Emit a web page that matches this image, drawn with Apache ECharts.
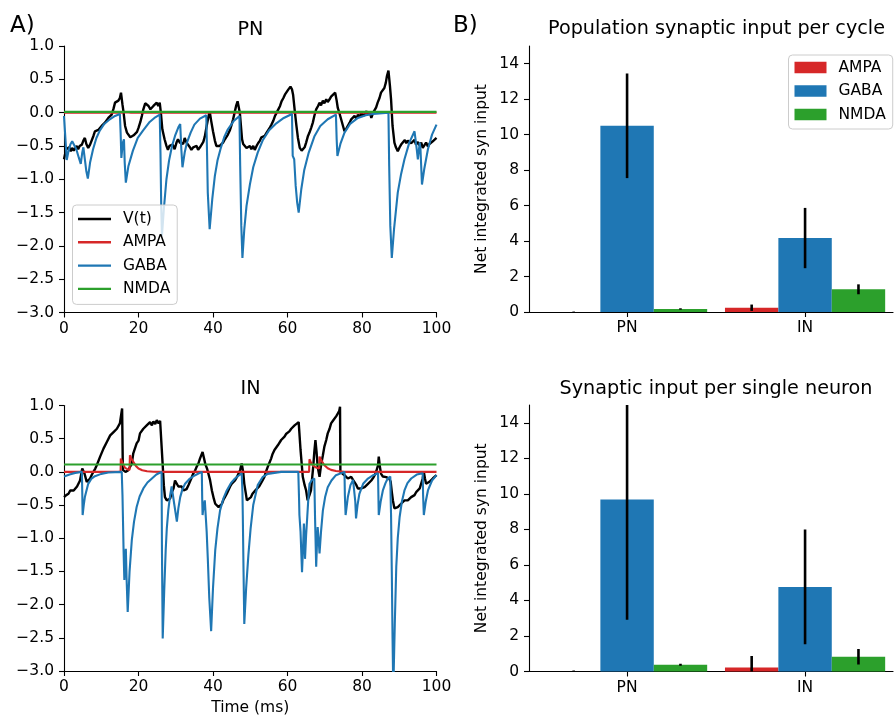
<!DOCTYPE html>
<html>
<head>
<meta charset="utf-8">
<script src="https://cdn.jsdelivr.net/npm/echarts@6/dist/echarts.min.js"></script>
<style>
html,body{margin:0;padding:0;background:#fff;}
#chart{width:894px;height:717px;}
</style>
</head>
<body>
<div id="chart"></div>
<script>
// ---------------- DATA ----------------
const timeTicks = [0, 20, 40, 60, 80, 100];
const voltTicks = [-3.0, -2.5, -2.0, -1.5, -1.0, -0.5, 0.0, 0.5, 1.0];
const barTicks = [0, 2, 4, 6, 8, 10, 12, 14];
const barCategories = ['PN', 'IN'];
const synTypes = ['AMPA', 'GABA', 'NMDA'];
const traceNames = ['V(t)', 'AMPA', 'GABA', 'NMDA'];

// PN traces [t (ms), value]
const pnVoltage = [[0,-0.7],[0.3,-0.62],[0.6,-0.55],[1.0,-0.58],[1.4,-0.52],[1.8,-0.58],[2.2,-0.53],[2.6,-0.57],[3.0,-0.55],[3.4,-0.5],[3.8,-0.55],[4.2,-0.5],[4.8,-0.48],[5.2,-0.42],[5.6,-0.38],[6.0,-0.47],[6.5,-0.53],[7.0,-0.48],[7.4,-0.45],[7.9,-0.35],[8.3,-0.28],[8.8,-0.31],[9.2,-0.26],[9.7,-0.23],[10.1,-0.2],[10.6,-0.19],[11.0,-0.15],[11.5,-0.12],[11.9,-0.08],[12.4,-0.07],[12.8,-0.03],[13.3,0.06],[13.7,0.15],[14.2,0.12],[14.6,0.18],[15.0,0.22],[15.3,0.3],[15.7,0.12],[16.0,0.0],[16.4,-0.2],[16.9,-0.3],[17.3,-0.33],[17.8,-0.37],[18.2,-0.38],[18.7,-0.34],[19.1,-0.33],[19.6,-0.29],[20.0,-0.23],[20.5,-0.14],[20.9,-0.05],[21.3,0.05],[21.8,0.14],[22.3,0.11],[22.7,0.1],[23.2,0.05],[23.6,0.04],[24.0,0.1],[24.4,0.12],[24.9,0.15],[25.3,0.1],[25.7,0.15],[26.0,0.0],[26.4,-0.25],[27.0,-0.4],[27.5,-0.5],[27.9,-0.56],[28.3,-0.5],[28.8,-0.53],[29.2,-0.48],[29.7,-0.55],[30.2,-0.45],[30.6,-0.4],[31.1,-0.45],[31.5,-0.42],[32.0,-0.47],[32.4,-0.38],[32.9,-0.45],[33.3,-0.43],[33.8,-0.52],[34.2,-0.56],[34.7,-0.52],[35.1,-0.55],[35.6,-0.5],[36.0,-0.56],[36.5,-0.52],[36.9,-0.5],[37.4,-0.44],[37.8,-0.36],[38.3,-0.2],[38.7,-0.08],[39.1,0.02],[39.5,-0.12],[40.0,-0.28],[40.5,-0.42],[40.9,-0.5],[41.4,-0.47],[41.8,-0.5],[42.3,-0.53],[42.7,-0.45],[43.2,-0.4],[43.6,-0.37],[44.0,-0.33],[44.5,-0.27],[44.9,-0.2],[45.4,-0.1],[45.8,0.0],[46.2,0.1],[46.6,0.17],[47.2,0.0],[47.8,-0.4],[48.1,-0.47],[48.5,-0.5],[49.0,-0.53],[49.4,-0.56],[49.9,-0.5],[50.3,-0.55],[50.8,-0.5],[51.2,-0.56],[51.7,-0.5],[52.1,-0.46],[52.6,-0.42],[53.0,-0.37],[53.5,-0.4],[53.9,-0.35],[54.4,-0.3],[54.8,-0.28],[55.3,-0.22],[55.7,-0.18],[56.2,-0.12],[56.6,-0.055],[57.1,0.0],[57.5,0.045],[58.0,0.1],[58.4,0.17],[58.9,0.22],[59.3,0.27],[59.8,0.3],[60.2,0.345],[60.8,0.39],[61.2,0.35],[61.5,0.27],[62.0,0.0],[62.4,-0.2],[62.8,-0.38],[63.3,-0.53],[63.8,-0.57],[64.2,-0.6],[64.6,-0.52],[65.0,-0.45],[65.5,-0.35],[65.9,-0.3],[66.4,-0.22],[66.8,-0.15],[67.2,-0.05],[67.7,0.05],[68.2,0.1],[68.6,0.15],[69.0,0.11],[69.5,0.18],[69.9,0.14],[70.4,0.2],[70.8,0.16],[71.3,0.2],[71.7,0.24],[72.1,0.27],[72.8,0.3],[73.2,0.18],[73.5,0.07],[74.0,-0.02],[74.4,-0.1],[74.9,-0.2],[75.3,-0.28],[75.8,-0.24],[76.2,-0.2],[76.7,-0.15],[77.1,-0.1],[77.6,-0.13],[78.0,-0.05],[78.5,-0.09],[78.9,-0.03],[79.4,-0.07],[79.8,0.0],[80.3,-0.05],[80.7,-0.02],[81.2,0.02],[81.6,-0.03],[82.1,0.01],[82.5,-0.08],[83.0,0.0],[83.4,0.02],[83.8,0.08],[84.2,0.15],[84.7,0.22],[85.1,0.3],[85.6,0.33],[86.0,0.37],[86.4,0.45],[86.7,0.55],[87.1,0.63],[87.5,0.4],[87.8,0.2],[88.2,-0.2],[88.7,-0.45],[89.1,-0.52],[89.6,-0.58],[90.1,-0.52],[90.5,-0.48],[91.0,-0.45],[91.5,-0.41],[91.9,-0.46],[92.3,-0.42],[92.8,-0.4],[93.2,-0.46],[93.6,-0.44],[94.1,-0.41],[94.5,-0.48],[95.0,-0.44],[95.4,-0.49],[95.9,-0.45],[96.3,-0.53],[96.8,-0.5],[97.2,-0.45],[97.7,-0.51],[98.1,-0.47],[98.6,-0.49],[99.0,-0.43],[99.5,-0.41],[100,-0.38]];
const pnAMPA = [[0,0],[15.3,0],[15.4,0.015],[16.5,0.008],[18,0],[46.8,0],[47,0.01],[48,0],[100,0]];
const pnGABA = [[0,-0.05],[0.3,-0.06],[0.5,-0.5],[0.73,-0.71],[1.2,-0.58],[1.7,-0.48],[2.2,-0.43],[2.7,-0.41],[3.3,-0.55],[4.0,-0.68],[4.5,-0.77],[4.9,-0.6],[5.2,-0.52],[5.6,-0.7],[6.0,-0.88],[6.4,-0.99],[7.0,-0.75],[7.8,-0.55],[8.7,-0.38],[9.6,-0.27],[10.8,-0.17],[12.3,-0.1],[13.7,-0.05],[15.0,-0.02],[15.2,-0.3],[15.4,-0.68],[15.8,-0.45],[16.1,-0.4],[16.3,-0.75],[16.6,-1.05],[17.3,-0.8],[18.5,-0.57],[19.8,-0.38],[21.2,-0.27],[23.0,-0.14],[24.5,-0.07],[25.7,-0.03],[25.9,-0.6],[26.1,-1.4],[26.3,-1.85],[26.8,-1.45],[27.5,-1.0],[28.2,-0.72],[29.0,-0.5],[29.8,-0.35],[30.7,-0.22],[31.2,-0.17],[31.5,-0.55],[31.8,-0.82],[32.4,-0.6],[33.0,-0.45],[34.0,-0.3],[35.0,-0.18],[36.5,-0.09],[38.2,-0.04],[38.4,-0.6],[38.6,-1.2],[39.1,-1.75],[39.8,-1.3],[40.5,-0.95],[41.2,-0.72],[42.0,-0.55],[43.0,-0.37],[44.0,-0.25],[45.5,-0.13],[47.1,-0.05],[47.3,-0.8],[47.6,-1.7],[47.9,-2.18],[48.4,-1.75],[49.0,-1.4],[49.9,-1.08],[50.8,-0.82],[52.0,-0.6],[53.4,-0.41],[55.0,-0.27],[57.0,-0.16],[59.0,-0.08],[61.2,-0.02],[61.4,-0.65],[61.8,-0.7],[62.2,-1.1],[62.6,-1.35],[63.0,-1.5],[63.7,-1.15],[64.5,-0.86],[65.7,-0.6],[67.2,-0.36],[68.8,-0.2],[70.8,-0.1],[73.0,-0.03],[73.2,-0.4],[73.4,-0.65],[74.2,-0.47],[75.3,-0.3],[76.8,-0.17],[78.9,-0.08],[81.0,-0.04],[83.0,-0.02],[87.1,0.0],[87.3,-0.8],[87.6,-1.7],[88.0,-2.18],[88.6,-1.75],[89.6,-1.2],[90.5,-0.92],[91.4,-0.7],[92.7,-0.45],[94.1,-0.28],[94.5,-0.25],[94.7,-0.55],[95.0,-0.7],[95.5,-0.45],[95.7,-0.55],[96.1,-1.08],[96.7,-0.85],[97.7,-0.55],[98.8,-0.33],[100,-0.18]];
const pnNMDA = [[0,0.012],[100,0.012]];

// IN traces [t (ms), value]
const inVoltage = [[0,-0.38],[0.6,-0.35],[1.2,-0.33],[1.7,-0.28],[2.1,-0.25],[2.6,-0.28],[3.0,-0.25],[3.5,-0.22],[3.9,-0.2],[4.3,-0.13],[4.9,0.05],[5.2,0.02],[5.5,-0.025],[6.1,-0.15],[6.6,-0.12],[7.0,-0.1],[7.5,-0.04],[7.9,0.0],[8.4,0.05],[8.8,0.1],[9.3,0.13],[9.7,0.23],[10.2,0.26],[10.6,0.35],[11.1,0.38],[11.5,0.45],[12.0,0.48],[12.4,0.55],[12.9,0.56],[13.3,0.6],[13.8,0.62],[14.2,0.65],[14.6,0.68],[15.0,0.73],[15.4,0.72],[15.6,0.955],[15.8,0.03],[16.5,0.0],[17.2,0.02],[17.7,0.0],[18.2,0.125],[18.6,0.28],[19.1,0.3],[19.5,0.43],[20.0,0.47],[20.4,0.58],[20.9,0.57],[21.3,0.65],[21.8,0.66],[22.2,0.7],[22.7,0.69],[23.1,0.75],[23.6,0.7],[24.0,0.76],[24.5,0.72],[24.9,0.78],[25.4,0.73],[25.8,0.77],[26.3,0.75],[26.5,0.1],[26.8,-0.2],[27.1,-0.38],[27.6,-0.43],[28.0,-0.42],[28.5,-0.4],[29.0,-0.3],[29.4,-0.25],[29.8,-0.13],[30.2,-0.15],[30.7,-0.22],[31.2,-0.25],[31.6,-0.22],[32.1,-0.28],[32.5,-0.25],[32.9,-0.26],[33.4,-0.2],[33.8,-0.15],[34.3,-0.08],[34.7,-0.025],[35.2,0.02],[35.6,0.075],[36.1,0.13],[36.5,0.2],[37.2,0.3],[37.6,0.2],[37.9,0.125],[38.4,0.05],[38.8,0.025],[39.2,-0.12],[39.7,-0.28],[40.2,-0.4],[40.6,-0.48],[41.1,-0.5],[41.5,-0.53],[42.0,-0.5],[42.4,-0.48],[42.8,-0.42],[43.2,-0.38],[43.7,-0.33],[44.1,-0.28],[44.6,-0.22],[45.0,-0.18],[45.5,-0.15],[45.9,-0.13],[46.4,-0.08],[46.8,-0.05],[47.3,0.03],[47.7,0.125],[48.1,0.0],[48.4,-0.18],[48.8,-0.32],[49.1,-0.43],[49.6,-0.42],[50.2,-0.38],[50.6,-0.33],[51.1,-0.3],[51.5,-0.27],[52.0,-0.25],[52.4,-0.22],[52.9,-0.2],[53.3,-0.13],[53.8,-0.075],[54.2,0.0],[54.7,0.075],[55.1,0.13],[55.6,0.2],[56.0,0.27],[56.5,0.33],[56.9,0.35],[57.4,0.4],[57.8,0.43],[58.3,0.48],[58.7,0.49],[59.2,0.53],[59.6,0.57],[60.1,0.6],[60.5,0.61],[61.0,0.65],[61.4,0.67],[61.9,0.7],[62.4,0.72],[63.0,0.75],[63.5,0.33],[64.1,-0.075],[64.6,-0.2],[65.0,-0.28],[65.4,-0.43],[65.9,-0.35],[66.3,-0.28],[66.6,-0.1],[66.9,0.075],[67.2,0.3],[67.5,0.48],[67.8,0.3],[68.1,0.075],[68.6,-0.075],[69.0,0.1],[69.5,0.25],[69.9,0.38],[70.4,0.48],[70.8,0.58],[71.3,0.65],[71.7,0.73],[72.2,0.77],[72.6,0.8],[73.1,0.84],[73.5,0.88],[73.9,0.92],[74.1,0.98],[74.2,0.0],[74.7,-0.03],[75.3,-0.05],[75.8,-0.08],[76.2,-0.1],[76.7,-0.08],[77.1,-0.075],[77.6,-0.12],[78.0,-0.15],[78.5,-0.2],[78.9,-0.25],[79.4,-0.27],[79.8,-0.25],[80.3,-0.24],[80.7,-0.23],[81.2,-0.2],[81.6,-0.18],[82.1,-0.15],[82.5,-0.13],[83.0,-0.09],[83.4,-0.05],[83.9,0.02],[84.3,0.1],[84.5,0.23],[84.8,0.08],[85.1,-0.025],[85.6,-0.07],[86.0,-0.1],[86.5,-0.08],[86.9,-0.075],[87.3,-0.1],[87.7,-0.15],[88.0,-0.3],[88.3,-0.43],[88.7,-0.55],[89.1,-0.55],[89.6,-0.53],[90.1,-0.5],[90.5,-0.48],[91.0,-0.45],[91.4,-0.43],[91.8,-0.45],[92.3,-0.43],[92.8,-0.4],[93.2,-0.38],[93.7,-0.37],[94.1,-0.35],[94.6,-0.3],[95.0,-0.28],[95.5,-0.25],[95.9,-0.23],[96.3,-0.1],[96.6,0.0],[96.9,-0.1],[97.2,-0.18],[97.7,-0.17],[98.1,-0.15],[98.6,-0.12],[99.0,-0.1],[99.5,-0.07],[100,-0.05]];
const inAMPA = [[0,0],[15.2,0],[15.25,0.2],[15.6,0.15],[16.0,0.1],[16.4,0.06],[17.0,0.04],[17.6,0.03],[17.7,0.25],[18.0,0.21],[18.6,0.15],[19.3,0.09],[20.0,0.05],[21.0,0.025],[22.3,0.01],[24,0.003],[26,0],[65.8,0],[65.9,0.19],[66.3,0.14],[66.8,0.1],[67.5,0.07],[68.5,0.05],[68.6,0.23],[69.0,0.18],[69.9,0.1],[70.8,0.055],[71.7,0.03],[73,0.012],[75.3,0],[100,0]];
const inGABA = [[0,-0.07],[1.5,-0.04],[3.0,-0.015],[4.8,0],[4.9,-0.3],[5.0,-0.65],[5.3,-0.5],[5.6,-0.38],[6.5,-0.18],[7.4,-0.1],[8.3,-0.065],[10,-0.03],[11.9,-0.01],[15.5,0],[15.7,-0.35],[15.8,-0.63],[16.0,-1.2],[16.2,-1.63],[16.4,-1.3],[16.6,-1.16],[16.8,-1.6],[17.1,-2.11],[17.6,-1.5],[18.2,-1.03],[18.8,-0.75],[19.5,-0.53],[20.3,-0.37],[21.3,-0.25],[22.4,-0.16],[23.6,-0.1],[24.8,-0.04],[26.2,0],[26.3,-1.2],[26.5,-2.51],[26.9,-1.8],[27.3,-1.18],[27.6,-0.85],[28.0,-0.58],[28.5,-0.35],[28.9,-0.22],[29.2,-0.2],[29.5,-0.45],[29.9,-0.6],[30.3,-0.75],[30.7,-0.55],[31.2,-0.38],[31.8,-0.26],[32.5,-0.18],[33.8,-0.1],[35.2,-0.05],[37.0,0],[37.1,-0.4],[37.2,-0.65],[37.5,-0.5],[37.8,-0.43],[38.3,-0.9],[38.6,-1.3],[39.0,-1.9],[39.5,-2.4],[40.0,-1.75],[40.6,-1.18],[41.2,-0.85],[41.9,-0.58],[42.8,-0.4],[43.7,-0.28],[44.8,-0.17],[45.9,-0.1],[47.7,-0.02],[47.9,-0.3],[48.0,-0.65],[48.2,-1.5],[48.4,-2.29],[48.9,-1.75],[49.5,-1.25],[50.1,-0.85],[50.8,-0.5],[52.0,-0.2],[53.3,-0.08],[54.7,-0.03],[58.3,0],[62.9,0],[63.1,-0.4],[63.2,-0.65],[63.5,-0.9],[63.9,-1.51],[64.2,-1.1],[64.4,-0.78],[64.6,-1.0],[64.7,-1.31],[65.0,-0.95],[65.3,-0.68],[65.6,-0.4],[65.9,-0.18],[66.6,-0.12],[67.2,-0.1],[67.4,-0.7],[67.7,-1.43],[67.9,-1.1],[68.1,-0.83],[68.4,-1.05],[68.6,-1.23],[69.0,-0.9],[69.5,-0.58],[70.1,-0.38],[70.8,-0.23],[71.8,-0.13],[73.0,-0.05],[75.3,0],[75.4,-0.35],[75.6,-0.65],[76.2,-0.38],[76.9,-0.2],[77.6,-0.12],[78.1,-0.1],[78.2,-0.45],[78.4,-0.7],[78.8,-0.5],[79.3,-0.33],[80.3,-0.18],[81.6,-0.1],[83.0,-0.05],[84.3,-0.02],[84.4,-0.35],[84.5,-0.65],[85.0,-0.45],[85.6,-0.28],[86.3,-0.17],[86.9,-0.1],[87.6,-0.07],[87.7,-0.4],[87.8,-0.65],[88.0,-1.5],[88.2,-2.5],[88.4,-3.3],[88.8,-2.3],[89.2,-1.43],[89.6,-1.0],[90.1,-0.68],[90.7,-0.45],[91.4,-0.28],[92.2,-0.17],[93.2,-0.1],[94.7,-0.04],[96.3,-0.02],[96.4,-0.35],[96.6,-0.65],[97.1,-0.45],[97.7,-0.28],[98.8,-0.13],[100,-0.05]];
const inNMDA = [[0,0.11],[100,0.11]];

// Bar values (index 0 = PN, 1 = IN) and error half-widths
const popAMPA = [0.005, 0.24];
const popGABA = [10.5, 4.17];
const popNMDA = [0.17, 1.28];
const popAMPAErr = [0.02, 0.18];
const popGABAErr = [2.95, 1.7];
const popNMDAErr = [0.04, 0.28];

const oneAMPA = [0.005, 0.22];
const oneGABA = [9.68, 4.76];
const oneNMDA = [0.38, 0.83];
const oneAMPAErr = [0.05, 0.65];
const oneGABAErr = [6.77, 3.23];
const oneNMDAErr = [0.05, 0.44];

// ---------------- STYLE ----------------
const FONT = 'DejaVu Sans';
const COLORS = { 'V(t)': '#000000', AMPA: '#d62728', GABA: '#1f77b4', NMDA: '#2ca02c' };
const BAR_W = 0.3; // bar width in category units

const chart = echarts.init(document.getElementById('chart'), null, { renderer: 'canvas', width: 894, height: 717 });

const fmtMinus = (v) => (v < 0 ? '\u2212' + Math.abs(v).toFixed(1) : v.toFixed(1));
const axisLine = { show: true, onZero: false, lineStyle: { color: '#000', width: 1.1 } };
const axisTick = { show: true, length: 5, lineStyle: { color: '#000', width: 1.1 } };
const labelStyle = { color: '#000', fontFamily: FONT, fontSize: 15.5 };

function timeAxis(grid, withName) {
  const ax = {
    type: 'value', gridIndex: grid, min: 0, max: 100, interval: 20,
    axisLine, axisTick: Object.assign({}, axisTick, { customValues: timeTicks }),
    axisLabel: Object.assign({}, labelStyle, { margin: 8, customValues: timeTicks }),
    splitLine: { show: false }
  };
  if (withName) {
    ax.name = 'Time (ms)';
    ax.nameLocation = 'middle';
    ax.nameGap = 29;
    ax.nameTextStyle = { color: '#000', fontFamily: FONT, fontSize: 15.5 };
  }
  return ax;
}
function voltAxis(grid) {
  return {
    type: 'value', gridIndex: grid, min: -3, max: 1, interval: 0.5,
    axisLine, axisTick: Object.assign({}, axisTick, { customValues: voltTicks }),
    axisLabel: Object.assign({}, labelStyle, { margin: 10, formatter: fmtMinus, customValues: voltTicks }),
    splitLine: { show: false }
  };
}
function catAxis(grid) {
  return {
    type: 'value', gridIndex: grid, min: -0.551, max: 1.494,
    axisLine, axisTick: Object.assign({}, axisTick, { customValues: [0, 1] }),
    axisLabel: Object.assign({}, labelStyle, { margin: 8, customValues: [0, 1], formatter: (v) => barCategories[Math.round(v)] }),
    splitLine: { show: false }
  };
}
function synAxis(grid) {
  return {
    type: 'value', gridIndex: grid, min: 0, max: 15, interval: 2,
    name: 'Net integrated syn input', nameLocation: 'middle', nameGap: 39, nameRotate: 90,
    nameTextStyle: { color: '#000', fontFamily: FONT, fontSize: 15.5 },
    axisLine, axisTick: Object.assign({}, axisTick, { customValues: barTicks }),
    axisLabel: Object.assign({}, labelStyle, { margin: 10, customValues: barTicks }),
    splitLine: { show: false }
  };
}

function lineSeries(name, data, idx) {
  return {
    type: 'line', name, data, xAxisIndex: idx, yAxisIndex: idx,
    showSymbol: false, symbol: 'none', clip: true, animation: false,
    color: COLORS[name],
    lineStyle: { color: COLORS[name], width: name === 'V(t)' ? 2.4 : 2.1 },
    z: 2
  };
}

function barSeries(name, values, idx) {
  return {
    type: 'bar', name, xAxisIndex: idx, yAxisIndex: idx,
    data: values.map((v, i) => [i, v]),
    barWidth: 53.4, barGap: '0%',
    itemStyle: { color: COLORS[name] },
    animation: false, clip: true
  };
}

function errSeries(meanArrs, errArrs, idx) {
  const rows = [];
  const offs = [-BAR_W, 0, BAR_W];
  for (let c = 0; c < barCategories.length; c++) {
    for (let s = 0; s < synTypes.length; s++) {
      const m = meanArrs[s][c], e = errArrs[s][c];
      rows.push([c + offs[s], m - e, m + e]);
    }
  }
  return {
    type: 'custom', xAxisIndex: idx, yAxisIndex: idx, clip: true, animation: false, z: 5,
    silent: true,
    data: rows,
    encode: { x: 0, y: [1, 2] },
    renderItem: function (params, api) {
      const x = api.value(0);
      const a = api.coord([x, api.value(1)]);
      const b = api.coord([x, api.value(2)]);
      return {
        type: 'line',
        shape: { x1: a[0], y1: a[1], x2: b[0], y2: b[1] },
        style: { stroke: '#000', lineWidth: 2.6 }
      };
    }
  };
}

const titleFont = '19.2px "DejaVu Sans"';
const option = {
  animation: false,
  backgroundColor: '#ffffff',
  textStyle: { fontFamily: FONT },
  grid: [
    { left: 64, top: 46, width: 372.5, height: 266.5 },
    { left: 64, top: 405.5, width: 372.5, height: 266.5 },
    { left: 529, top: 46, width: 364, height: 266 },
    { left: 529, top: 405, width: 364, height: 266.5 }
  ],
  xAxis: [timeAxis(0, false), timeAxis(1, true), catAxis(2), catAxis(3)],
  yAxis: [voltAxis(0), voltAxis(1), synAxis(2), synAxis(3)],
  legend: [
    {
      data: traceNames, orient: 'vertical', left: 72.5, top: 205,
      icon: 'rect', itemWidth: 33, itemHeight: 2.4, itemGap: 7.3,
      padding: [6, 7, 7.5, 5.5],
      backgroundColor: 'rgba(255,255,255,0.8)', borderColor: '#cccccc', borderWidth: 1, borderRadius: 4,
      selectedMode: false,
      itemStyle: { borderWidth: 0 },
      textStyle: { color: '#000', fontFamily: FONT, fontSize: 15.5, lineHeight: 16, padding: [0, 0, 0, 7] }
    },
    {
      data: synTypes, orient: 'vertical', left: 788.5, top: 55,
      icon: 'rect', itemWidth: 32, itemHeight: 11.5, itemGap: 7.5,
      padding: [4.5, 7, 6.5, 6],
      backgroundColor: 'rgba(255,255,255,0.8)', borderColor: '#cccccc', borderWidth: 1, borderRadius: 4,
      selectedMode: false,
      itemStyle: { borderWidth: 0 },
      textStyle: { color: '#000', fontFamily: FONT, fontSize: 15.5, lineHeight: 16, padding: [0, 0, 0, 7] }
    }
  ],
  graphic: [
    { type: 'text', x: 10, y: 26, style: { text: 'A)', font: '23px "DejaVu Sans"', fill: '#000', textAlign: 'left', verticalAlign: 'middle' } },
    { type: 'text', x: 453, y: 26, style: { text: 'B)', font: '23px "DejaVu Sans"', fill: '#000', textAlign: 'left', verticalAlign: 'middle' } },
    { type: 'text', x: 250.5, y: 30, style: { text: 'PN', font: titleFont, fill: '#000', textAlign: 'center', verticalAlign: 'middle' } },
    { type: 'text', x: 250.5, y: 389, style: { text: 'IN', font: titleFont, fill: '#000', textAlign: 'center', verticalAlign: 'middle' } },
    { type: 'text', x: 716.5, y: 29, style: { text: 'Population synaptic input per cycle', font: titleFont, fill: '#000', textAlign: 'center', verticalAlign: 'middle' } },
    { type: 'text', x: 716, y: 389, style: { text: 'Synaptic input per single neuron', font: titleFont, fill: '#000', textAlign: 'center', verticalAlign: 'middle' } }
  ],
  series: [
    lineSeries('V(t)', pnVoltage, 0),
    lineSeries('AMPA', pnAMPA, 0),
    lineSeries('GABA', pnGABA, 0),
    lineSeries('NMDA', pnNMDA, 0),
    lineSeries('V(t)', inVoltage, 1),
    lineSeries('AMPA', inAMPA, 1),
    lineSeries('GABA', inGABA, 1),
    lineSeries('NMDA', inNMDA, 1),
    barSeries('AMPA', popAMPA, 2),
    barSeries('GABA', popGABA, 2),
    barSeries('NMDA', popNMDA, 2),
    errSeries([popAMPA, popGABA, popNMDA], [popAMPAErr, popGABAErr, popNMDAErr], 2),
    barSeries('AMPA', oneAMPA, 3),
    barSeries('GABA', oneGABA, 3),
    barSeries('NMDA', oneNMDA, 3),
    errSeries([oneAMPA, oneGABA, oneNMDA], [oneAMPAErr, oneGABAErr, oneNMDAErr], 3)
  ]
};
chart.setOption(option);
</script>
</body>
</html>
